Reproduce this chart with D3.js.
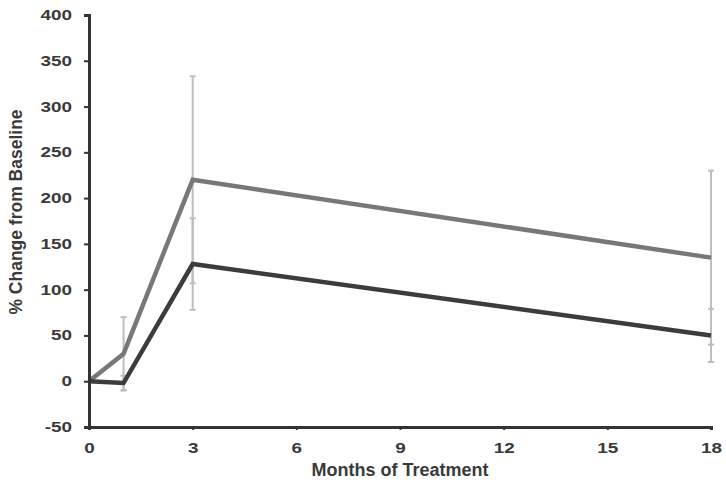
<!DOCTYPE html>
<html>
<head>
<meta charset="utf-8">
<script src="https://cdn.jsdelivr.net/npm/d3@7.9.0/dist/d3.min.js"></script>
<style>
  body { margin: 0; background: #fff; }
  svg text { font-family: "Liberation Sans", Arial, sans-serif; font-weight: bold; fill: #3a3a3a; }
</style>
</head>
<body>
<svg width="726" height="493"></svg>
<script>
const months = [0, 1, 3, 18];
const upperVals = [0, 30, 220, 135];
const upperErr = [0, 40, 113, 95];
const lowerVals = [0, -2, 128, 50];
const lowerErr = [0, 8, 50, 29];
const xTicks = [0, 3, 6, 9, 12, 15, 18];
const yTicks = [-50, 0, 50, 100, 150, 200, 250, 300, 350, 400];

const svg = d3.select('svg');
const x = d3.scaleLinear().domain([0, 18]).range([89, 711]);
const y = d3.scaleLinear().domain([-50, 400]).range([427, 15]);

// error bars (drawn first, light grey)
const bars = svg.append('g').attr('stroke', '#bdbdbd').attr('stroke-width', 2);
[[upperVals, upperErr], [lowerVals, lowerErr]].forEach(([vals, errs]) => {
    months.forEach((m, i) => {
        if (errs[i] === 0) return;
        bars.append('line')
            .attr('x1', x(m)).attr('x2', x(m))
            .attr('y1', y(vals[i] - errs[i])).attr('y2', y(vals[i] + errs[i]));
        [vals[i] - errs[i], vals[i] + errs[i]].forEach(v => {
            bars.append('line')
                .attr('x1', x(m) - 3).attr('x2', x(m) + 3)
                .attr('y1', y(v)).attr('y2', y(v));
        });
    });
});

const line = d3.line().x((d, i) => x(months[i])).y(d => y(d));
svg.append('path').attr('d', line(upperVals))
    .attr('fill', 'none').attr('stroke', '#787878').attr('stroke-width', 4.5);
svg.append('path').attr('d', line(lowerVals))
    .attr('fill', 'none').attr('stroke', '#3c3c3c').attr('stroke-width', 4.5);

// axes
const sx = 1.35; // tick labels look horizontally stretched
const yAxis = svg.append('g').attr('transform', `translate(${x(0)},0)`)
    .call(d3.axisLeft(y).tickValues(yTicks).tickFormat(d => String(d)).tickSize(5).tickPadding(12));
const xAxis = svg.append('g').attr('transform', `translate(0,${y(-50)})`)
    .call(d3.axisBottom(x).tickValues(xTicks).tickFormat(d => String(d)).tickSize(3).tickPadding(13));
[yAxis, xAxis].forEach(g => {
    g.select('.domain').attr('stroke', '#333').attr('stroke-width', 3);
    g.selectAll('.tick line').attr('stroke', '#333').attr('stroke-width', 2);
    g.selectAll('.tick text').attr('font-size', 14).attr('fill', '#3a3a3a')
        .attr('font-family', '"Liberation Sans", Arial, sans-serif').attr('font-weight', 'bold')
        .each(function () {
            const t = d3.select(this);
            t.attr('x', (+t.attr('x') || 0) / sx).attr('transform', `scale(${sx},1)`);
        });
});
xAxis.selectAll('.tick text').attr('dy', '0.71em');

svg.append('text').attr('x', 400).attr('y', 476).attr('text-anchor', 'middle')
    .attr('font-size', 18).text('Months of Treatment');
svg.append('text').attr('transform', 'translate(22,212) rotate(-90)')
    .attr('text-anchor', 'middle').attr('font-size', 17.5).text('% Change from Baseline');
</script>
</body>
</html>
